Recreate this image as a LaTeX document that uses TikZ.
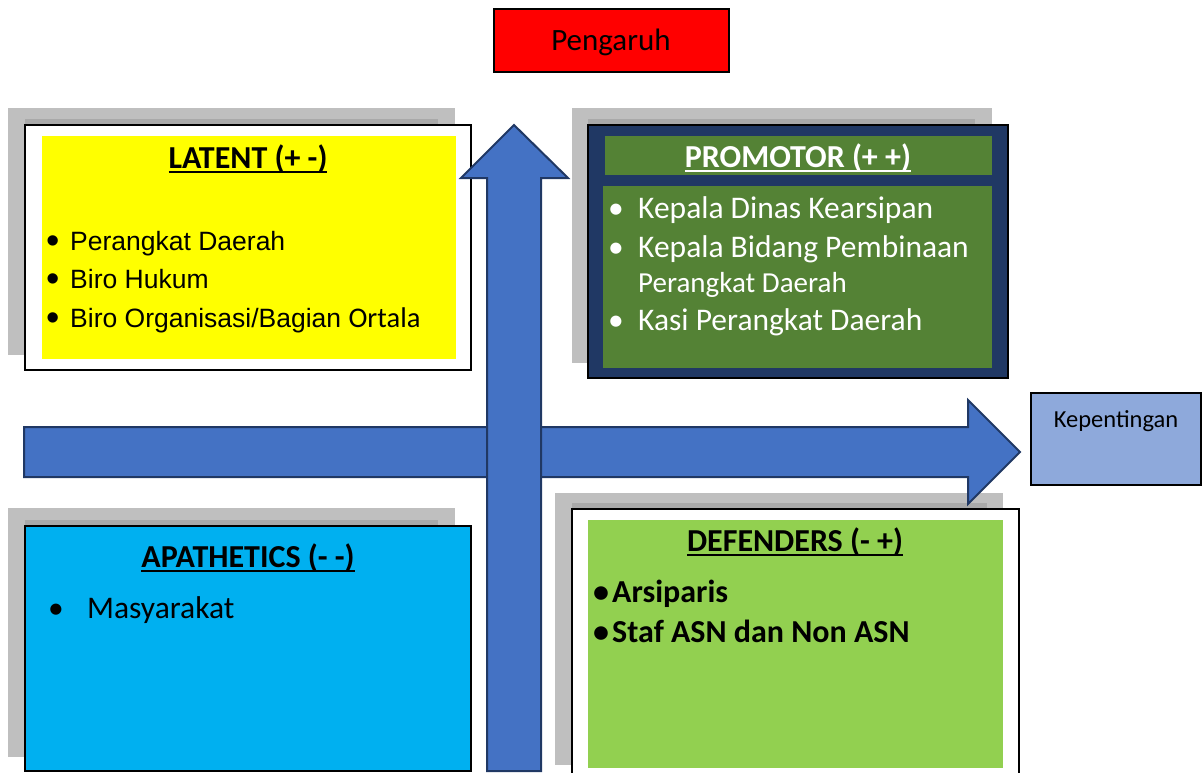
\documentclass[tikz,border=0pt]{standalone}
\usepackage{fontspec}
\setmainfont{Carlito}
\newfontfamily\arialfont{Liberation Sans}
\definecolor{shadeA}{HTML}{BFBFBF}
\definecolor{shadeB}{HTML}{A9A9A9}
\definecolor{latentyellow}{HTML}{FFFF00}
\definecolor{promnavy}{HTML}{203864}
\definecolor{promgreen}{HTML}{548235}
\definecolor{defgreen}{HTML}{92D050}
\definecolor{apacyan}{HTML}{00B0F0}
\definecolor{arrowblue}{HTML}{4472C4}
\definecolor{arrownavy}{HTML}{203864}
\definecolor{kepblue}{HTML}{8EA9DB}
\definecolor{pengred}{HTML}{FF0000}
% underlined heading text
\newcommand\ulbar[1]{\setbox0=\hbox{#1}\leavevmode\rlap{\rule[-4.5pt]{\wd0}{2pt}}\box0}
% larger bullet dot for the list set in Arial metrics
\newcommand\bigdot{\raisebox{-3.5pt}{\fontsize{38}{38}\selectfont •}}
\tikzset{
  lightshade/.style={fill=shadeA, draw=none},
  darkshade/.style={fill=shadeB, draw=none},
  framebox/.style={draw=black, line width=2pt, inner sep=0pt, outer sep=0pt, anchor=north west},
  panel/.style={draw=none, inner sep=0pt, outer sep=0pt, anchor=north west},
  bigarrow/.style={fill=arrowblue, draw=arrownavy, line width=2pt, line join=miter},
  txt/.style={inner sep=0pt, anchor=base west},
  ttl/.style={inner sep=0pt, anchor=base, font=\fontsize{32}{38}\selectfont\bfseries},
  body/.style={txt, font=\fontsize{31.5}{37}\selectfont},
  arialbody/.style={txt, font=\arialfont\fontsize{26.5}{31}\selectfont},
}
\begin{document}
\begin{tikzpicture}[x=1pt,y=-1pt]
\useasboundingbox (0,0) rectangle (1204,772);

% ---- top label: Pengaruh
\node[framebox, fill=pengred, minimum width=235pt, minimum height=63pt] (peng) at (494,9) {};
\node[inner sep=0pt, anchor=base, font=\fontsize{31}{37}\selectfont] (pengtxt) at (611,50) {Pengaruh};

% ---- right label: Kepentingan
\node[framebox, fill=kepblue, minimum width=170pt, minimum height=92pt] (kep) at (1031,393) {};
\node[inner sep=0pt, anchor=base, font=\fontsize{24.5}{29}\selectfont] (keptxt) at (1116,427) {Kepentingan};

% ---- LATENT quadrant
\fill[lightshade] (8,108) rectangle (455,355);
\fill[darkshade] (25,119) rectangle (438,345);
\node[framebox, fill=white, minimum width=446pt, minimum height=245pt] (latent) at (25,125) {};
\node[panel, fill=latentyellow, minimum width=414pt, minimum height=223pt] (latentin) at (42,136) {};
\node[ttl] (latentttl) at (248,168) {\ulbar{LATENT (+ -)}};
\node[arialbody] (lat1) at (46,250) {\makebox[24pt][l]{\bigdot}Perangkat Daerah};
\node[arialbody] (lat2) at (46,288) {\makebox[24pt][l]{\bigdot}Biro Hukum};
\node[arialbody] (lat3) at (46,327) {\makebox[24pt][l]{\bigdot}Biro Organisasi/Bagian {\normalfont\fontsize{28.5}{33}\selectfont Ortala}};

% ---- PROMOTOR quadrant
\fill[lightshade] (572,108) rectangle (992,363);
\fill[darkshade] (588,119) rectangle (975,360);
\node[framebox, fill=promnavy, minimum width=420pt, minimum height=253pt] (prom) at (588,125) {};
\node[panel, fill=promgreen, minimum width=387pt, minimum height=39pt] (promhead) at (605,136) {};
\node[panel, fill=promgreen, minimum width=389pt, minimum height=182pt] (prombody) at (603,186) {};
\node[ttl, text=white] (promttl) at (798,167) {\ulbar{PROMOTOR (+ +)}};
\node[body, text=white] (prom1) at (608,218) {\makebox[30pt][l]{•}Kepala Dinas Kearsipan};
\node[body, text=white] (prom2) at (608,257) {\makebox[30pt][l]{•}Kepala Bidang Pembinaan};
\node[txt, text=white, font=\fontsize{29}{35}\selectfont] (prom2b) at (638,292) {Perangkat Daerah};
\node[body, text=white] (prom3) at (608,330) {\makebox[30pt][l]{•}Kasi Perangkat Daerah};

% ---- APATHETICS quadrant
\fill[lightshade] (8,508) rectangle (455,757);
\fill[darkshade] (25,520) rectangle (438,750);
\node[framebox, fill=apacyan, minimum width=446pt, minimum height=245pt] (apa) at (25,526) {};
\node[ttl] (apattl) at (248,567) {\ulbar{APATHETICS (- -)}};
\node[body] (apa1) at (48,618) {\makebox[39pt][l]{•}Masyarakat};

% ---- DEFENDERS quadrant
\fill[lightshade] (555,493) rectangle (1003,765);
\fill[darkshade] (572,503) rectangle (987,760);
\node[framebox, fill=white, minimum width=447pt, minimum height=268pt] (def) at (572,509) {};
\node[panel, fill=defgreen, minimum width=415pt, minimum height=248pt] (defin) at (588,520) {};
\node[ttl] (defttl) at (795,551) {\ulbar{DEFENDERS (- +)}};
\node[body, font=\fontsize{32}{37}\selectfont\bfseries] (def1) at (593,602) {\makebox[19pt][l]{•}Arsiparis};
\node[body, font=\fontsize{32}{37}\selectfont\bfseries] (def2) at (593,642) {\makebox[19pt][l]{•}Staf ASN dan Non ASN};

% ---- horizontal axis arrow (Kepentingan)
\draw[bigarrow] (24,427) -- (968,427) -- (968,400) -- (1020,452) -- (968,504)
  -- (968,477) -- (24,477) -- cycle;

% ---- vertical axis arrow (Pengaruh)
\draw[bigarrow] (487,771) -- (487,178) -- (461,178) -- (514,125) -- (568,178)
  -- (541,178) -- (541,771) -- cycle;
\end{tikzpicture}
\end{document}
